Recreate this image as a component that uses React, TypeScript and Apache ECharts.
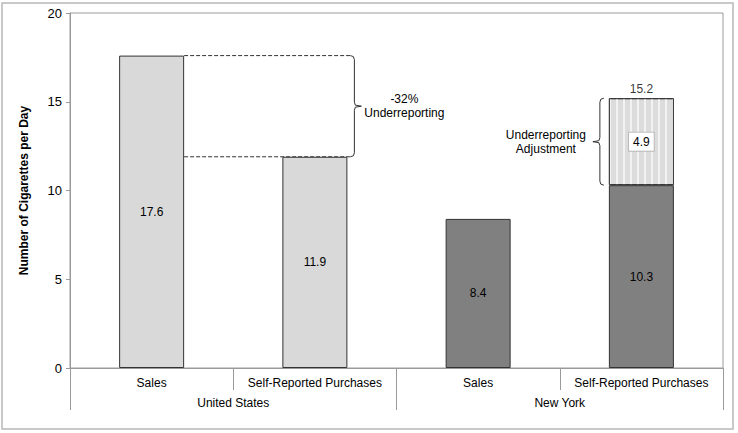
import React, { useEffect, useRef } from "react";
import * as echarts from "echarts";

const subCategories = ["Sales", "Self-Reported Purchases", "Sales", "Self-Reported Purchases"];
const groups = ["United States", "New York"];
const baseValues = [17.6, 11.9, 8.4, 10.3];
const adjustValues: (number | null)[] = [null, null, null, 4.9];
const totalValues: (number | null)[] = [null, null, null, 15.2];
const barColors = ["#d9d9d9", "#d9d9d9", "#808080", "#808080"];
const yTicks = { min: 0, max: 20, interval: 5 };
const usNote = "-32%\nUnderreporting";
const nyNote = "Underreporting\nAdjustment";

const BAR_W = 65;

export default function App() {
  const ref = useRef<HTMLDivElement>(null);
  useEffect(() => {
    document.body.style.margin = "0";
    const chart = echarts.init(ref.current!, null, { renderer: "svg" });
    const font = "Arial, 'Liberation Sans', sans-serif";
    chart.setOption({
      animation: false,
      backgroundColor: "#fff",
      textStyle: { fontFamily: font },
      grid: { left: 70, right: 15, top: 13, bottom: 65, show: true, borderColor: "#9a9a9a", borderWidth: 1 },
      xAxis: [
        {
          type: "category",
          data: subCategories,
          position: "bottom",
          axisLine: { show: true, lineStyle: { color: "#9a9a9a" } },
          axisTick: { show: true, length: 22, interval: 0, lineStyle: { color: "#9a9a9a" } },
          axisLabel: { color: "#000", fontSize: 12, margin: 9, interval: 0 },
        },
        {
          type: "category",
          data: groups,
          position: "bottom",
          axisLine: { show: false },
          axisTick: { show: true, length: 42, interval: 0, lineStyle: { color: "#9a9a9a" } },
          axisLabel: { color: "#000", fontSize: 12, margin: 29, interval: 0 },
        },
      ],
      yAxis: {
        type: "value",
        min: yTicks.min,
        max: yTicks.max,
        interval: yTicks.interval,
        name: "Number of Cigarettes per Day",
        nameLocation: "middle",
        nameGap: 40,
        nameTextStyle: { fontWeight: "bold", fontSize: 12, color: "#000" },
        axisLine: { show: true, lineStyle: { color: "#9a9a9a" } },
        axisTick: { show: true, length: 4, lineStyle: { color: "#9a9a9a" } },
        axisLabel: { color: "#000", fontSize: 13, margin: 8 },
        splitLine: { show: false },
      },
      series: [
        {
          type: "bar",
          stack: "s",
          barWidth: BAR_W,
          data: baseValues.map((v, i) => ({ value: v, itemStyle: { color: barColors[i] } })),
          itemStyle: { borderColor: "#333", borderWidth: 1 },
          label: { show: true, position: "inside", color: "#000", fontSize: 12, formatter: (p: any) => p.value.toFixed(1) },
        },
        {
          type: "bar",
          stack: "s",
          barWidth: BAR_W,
          data: adjustValues,
          itemStyle: {
            color: "#dcdcdc",
            borderColor: "#333",
            borderWidth: 1,
            decal: { symbol: "rect", color: "#f2f2f2", dashArrayX: [2, 5], dashArrayY: [1, 0], symbolSize: 1, rotation: 0 },
          },
          label: {
            show: true,
            position: "inside",
            color: "#000",
            fontSize: 12,
            backgroundColor: "#fff",
            borderColor: "#bbb",
            borderWidth: 1,
            padding: [3, 4],
            formatter: (p: any) => p.value.toFixed(1),
          },
        },
        {
          type: "scatter",
          data: totalValues,
          symbolSize: 0,
          itemStyle: { color: "#000" },
          label: { show: true, position: "top", distance: 3, color: "#000", fontSize: 12, formatter: (p: any) => p.value.toFixed(1) },
        },
      ],
    });

    const px = (i: number, v: number) => chart.convertToPixel({ xAxisIndex: 0, yAxisIndex: 0 }, [i, v]) as number[];
    const line = { stroke: "#333", lineWidth: 1, fill: null };
    const usTop = px(0, baseValues[0]);
    const usBot = px(1, baseValues[1]);
    const x0 = usTop[0] + BAR_W / 2;
    const bx = usBot[0] + BAR_W / 2 + 7;
    const yT = usTop[1];
    const yB = usBot[1];
    const yM = (yT + yB) / 2;
    const nyTop = px(3, totalValues[3] as number);
    const nyBot = px(3, baseValues[3]);
    const nx = nyTop[0] - BAR_W / 2 - 9;
    const nT = nyTop[1];
    const nB = nyBot[1];
    const nM = (nT + nB) / 2;

    const braceR = (x: number, t: number, b: number, m: number) => [
      [x - 4, t], [x - 1, t + 1], [x, t + 4], [x, m - 4], [x + 1, m - 1], [x + 7, m],
      [x + 1, m + 1], [x, m + 4], [x, b - 4], [x - 1, b - 1], [x - 4, b],
    ];
    const braceL = (x: number, t: number, b: number, m: number) => [
      [x + 4, t], [x + 1, t + 1], [x, t + 4], [x, m - 4], [x - 1, m - 1], [x - 7, m],
      [x - 1, m + 1], [x, m + 4], [x, b - 4], [x + 1, b - 1], [x + 4, b],
    ];

    chart.setOption({
      graphic: [
        { type: "rect", shape: { x: 2, y: 3, width: 731, height: 426 }, style: { fill: null, stroke: "#b8b8b8", lineWidth: 1.5 }, silent: true },
        { type: "line", shape: { x1: x0, y1: yT, x2: bx - 4, y2: yT }, style: { ...line, lineDash: [4, 2] } },
        { type: "line", shape: { x1: x0, y1: yB, x2: bx - 4, y2: yB }, style: { ...line, lineDash: [4, 2] } },
        { type: "polyline", shape: { points: braceR(bx, yT, yB, yM) }, style: line },
        { type: "text", x: bx + 50, y: yM, style: { text: usNote, fontSize: 12, fontFamily: font, fill: "#000", align: "center", verticalAlign: "middle", lineHeight: 14 } },
        { type: "polyline", shape: { points: braceL(nx, nT, nB, nM) }, style: line },
        { type: "text", x: nx - 54, y: nM, style: { text: nyNote, fontSize: 12, fontFamily: font, fill: "#000", align: "center", verticalAlign: "middle", lineHeight: 14 } },
      ],
    });
    return () => chart.dispose();
  }, []);
  return <div ref={ref} style={{ width: 738, height: 433 }} />;
}
